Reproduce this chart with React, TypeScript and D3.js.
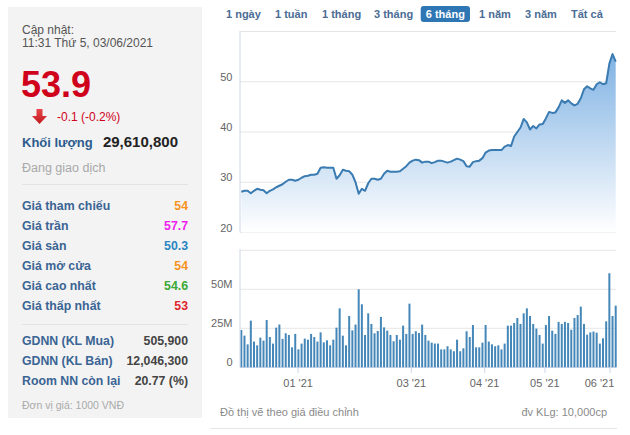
import React from 'react';
import * as d3 from 'd3';

// ---------- data ----------
const prices = [
  28.1, 28.3, 28.3, 27.8, 28.3, 28.7, 28.5, 28.4, 27.8, 28.3,
  28.6, 29.0, 29.3, 29.6, 30.1, 30.5, 30.5, 30.3, 30.5, 30.9,
  31.2, 31.3, 31.5, 31.5, 31.7, 32.9, 33.0, 32.9, 32.9, 32.9,
  30.7, 31.4, 32.5, 32.3, 32.2, 31.5, 30.0, 27.7, 28.7, 28.3,
  29.8, 30.7, 30.7, 30.5, 30.7, 31.7, 32.3, 32.1, 32.1, 32.1,
  32.2, 32.7, 33.2, 33.9, 34.3, 34.5, 34.4, 33.9, 34.1, 34.1,
  33.8, 34.0, 34.3, 34.3, 34.1, 33.9, 34.1, 34.4, 34.7, 34.5,
  34.2, 33.2, 33.1, 34.0, 34.2, 34.3, 34.8, 35.9, 36.3, 36.4,
  36.4, 36.4, 36.4, 37.1, 37.4, 37.2, 39.1, 40.0, 40.9, 42.6,
  41.9, 40.5, 41.2, 40.7, 41.5, 41.6, 42.7, 44.0, 43.8, 43.9,
  44.9, 46.3, 45.8, 46.3, 45.7, 45.3, 45.6, 46.7, 48.5, 49.1,
  48.7, 48.4, 49.5, 49.9, 49.5, 49.7, 53.6, 55.5, 54.0,
];

// volumes in millions of shares
const volumes = [
  23.9, 20.3, 14.7, 29.9, 16.5, 14.1, 19.0, 17.1, 30.3, 19.4,
  15.2, 25.4, 27.4, 18.2, 21.8, 20.7, 12.8, 21.4, 11.5, 15.2,
  18.4, 17.7, 21.4, 19.4, 16.5, 22.4, 16.0, 17.3, 14.1, 17.7,
  25.4, 37.8, 20.3, 14.1, 32.9, 23.7, 27.4, 50.0, 40.4, 20.7,
  34.6, 27.8, 21.8, 23.3, 32.3, 25.6, 23.5, 20.7, 16.7, 20.7,
  17.7, 26.7, 21.4, 40.8, 21.4, 23.1, 22.0, 27.4, 20.7, 17.1,
  15.8, 15.2, 15.2, 11.5, 11.5, 13.5, 11.5, 10.3, 17.7, 10.3,
  12.2, 23.1, 19.4, 27.1, 12.8, 12.8, 15.8, 27.1, 16.5, 14.7,
  13.5, 14.1, 11.5, 15.2, 26.7, 26.7, 28.4, 31.6, 27.8, 34.6,
  37.8, 32.9, 27.8, 24.8, 20.7, 15.2, 27.1, 32.9, 23.5, 21.4,
  29.1, 27.8, 29.1, 28.4, 24.1, 31.6, 33.5, 38.9, 27.8, 20.9,
  22.4, 22.9, 22.2, 15.2, 18.6, 29.5, 60.3, 32.9, 39.5,
];

const priceTicks = [20, 30, 40, 50, 60];
const volumeTicks = [0, 25, 50, 75];
const monthLabels = ["01 '21", "03 '21", "04 '21", "05 '21", "06 '21"];
const monthTickIndex = [17.9, 53.6, 76.7, 95.7, 116.2];

const tabs = ['1 ngày', '1 tuần', '1 tháng', '3 tháng', '6 tháng', '1 năm', '3 năm', 'Tất cả'];
const selectedTab = '6 tháng';

const statLabels = ['Giá tham chiếu', 'Giá trần', 'Giá sàn', 'Giá mở cửa', 'Giá cao nhất', 'Giá thấp nhất'];
const statValues = ['54', '57.7', '50.3', '54', '54.6', '53'];
const statColors = ['#f7931e', '#f01cf0', '#2a86c2', '#f7931e', '#3aa935', '#e0262b'];

const foreignLabels = ['GDNN (KL Mua)', 'GDNN (KL Bán)', 'Room NN còn lại'];
const foreignValues = ['505,900', '12,046,300', '20.77 (%)'];

// ---------- layout ----------
const W = 630;
const H = 435;
const FONT = '"Liberation Sans", Arial, Helvetica, sans-serif';
const tabStartX = [226, 275, 322, 374, 421, 479, 525, 571];

export default function App() {
  const n = prices.length;
  const x = d3.scaleLinear().domain([0, n - 1]).range([241.3, 615.7]);
  const yP = d3.scaleLinear().domain([20, 60]).range([232.5, 31.5]);
  const yV = d3.scaleLinear().domain([0, 75]).range([367.3, 250.3]);

  const line = d3.line<number>().x((_, i) => x(i)).y((d) => yP(d));
  const area = d3
    .area<number>()
    .x((_, i) => x(i))
    .y0(yP(20))
    .y1((d) => yP(d));

  const axisColor = '#ccd6eb';
  const gridColor = '#e6e6e6';
  const labelColor = '#666666';

  return (
    <svg
      width={W}
      height={H}
      style={{ position: 'absolute', left: 0, top: 0, background: '#fff' }}
      fontFamily={FONT}
    >
      <defs>
        <linearGradient id="areaGrad" gradientUnits="userSpaceOnUse" x1="0" y1="31" x2="0" y2="232">
          <stop offset="0" stopColor="#6fa8e0" />
          <stop offset="1" stopColor="#ffffff" />
        </linearGradient>
        <linearGradient id="arrowGrad" x1="0" y1="0" x2="0" y2="1">
          <stop offset="0" stopColor="#e8474b" />
          <stop offset="1" stopColor="#c0181d" />
        </linearGradient>
      </defs>

      {/* ---------- left panel ---------- */}
      <rect x={8} y={7} width={194} height={411} fill="#f3f3f3" />
      <text x={22} y={33.5} fontSize={12} fill="#555">Cập nhật:</text>
      <text x={22} y={46.5} fontSize={12} fill="#555">11:31 Thứ 5, 03/06/2021</text>
      <text x={21} y={96.7} fontSize={36} fontWeight="bold" fill="#d0021b">53.9</text>
      <path d="M36.5,109 L42.5,109 L42.5,116 L47,116 L39.5,124 L32,116 L36.5,116 Z" fill="url(#arrowGrad)" />
      <text x={57} y={121} fontSize={12} fill="#d0021b">-0.1 (-0.2%)</text>
      <text x={22} y={147} fontSize={13} fontWeight="bold" fill="#2d5b8e">Khối lượng</text>
      <text x={178} y={147} fontSize={15} fontWeight="bold" fill="#222" textAnchor="end">29,610,800</text>
      <text x={22} y={171.5} fontSize={12.5} fill="#a8a8a8">Đang giao dịch</text>
      <line x1={22} x2={188} y1={184.5} y2={184.5} stroke="#e2e2e2" />

      {statLabels.map((l, i) => (
        <g key={l}>
          <text x={22} y={209.5 + i * 20} fontSize={12.3} fontWeight="bold" fill="#3a6494">{l}</text>
          <text x={188} y={209.5 + i * 20} fontSize={12.3} fontWeight="bold" fill={statColors[i]} textAnchor="end">
            {statValues[i]}
          </text>
        </g>
      ))}
      <line x1={22} x2={188} y1={324.5} y2={324.5} stroke="#e2e2e2" />
      {foreignLabels.map((l, i) => (
        <g key={l}>
          <text x={22} y={344.5 + i * 20} fontSize={12.3} fontWeight="bold" fill="#3a6494">{l}</text>
          <text x={188} y={344.5 + i * 20} fontSize={12.3} fontWeight="bold" fill="#444" textAnchor="end">
            {foreignValues[i]}
          </text>
        </g>
      ))}
      <text x={22} y={409} fontSize={10.5} fill="#aaa">Đơn vị giá: 1000 VNĐ</text>

      {/* ---------- tabs ---------- */}
      {tabs.map((t, i) =>
        t === selectedTab ? (
          <g key={t}>
            <rect x={420.7} y={6} width={49.3} height={16} rx={3} fill="#2f76b5" />
            <text x={445.3} y={18} fontSize={11} fontWeight="bold" fill="#fff" textAnchor="middle">{t}</text>
          </g>
        ) : (
          <text key={t} x={tabStartX[i]} y={18} fontSize={11} fontWeight="bold" fill="#4a6c94">{t}</text>
        )
      )}

      {/* ---------- price chart ---------- */}
      {priceTicks.map((t) => (
        <line key={t} x1={240} x2={616} y1={yP(t)} y2={yP(t)} stroke={gridColor} />
      ))}
      {priceTicks.filter((t) => t < 60).map((t) => (
        <text key={t} x={232.5} y={yP(t) - 0.8} fontSize={11} fill={labelColor} textAnchor="end">{t}</text>
      ))}
      <path d={area(prices) || ''} fill="url(#areaGrad)" />
      <path d={line(prices) || ''} fill="none" stroke="#3a7bb1" strokeWidth={2} strokeLinejoin="round" />
      <line x1={240} x2={240} y1={31} y2={232.5} stroke={axisColor} />

      {/* ---------- volume chart ---------- */}
      {volumeTicks.map((t) => (
        <line key={t} x1={240} x2={616} y1={yV(t)} y2={yV(t)} stroke={t === 0 ? axisColor : gridColor} />
      ))}
      {volumeTicks.filter((t) => t < 75).map((t) => (
        <text key={t} x={232.5} y={yV(t) - 1} fontSize={11} fill={labelColor} textAnchor="end">
          {t === 0 ? '0' : `${t}M`}
        </text>
      ))}
      {volumes.map((v, i) => (
        <rect key={i} x={x(i) - 1} y={yV(v)} width={2} height={yV(0) - yV(v)} fill="#4587b8" />
      ))}
      <line x1={240} x2={240} y1={249} y2={367.3} stroke={axisColor} />
      {monthLabels.map((m, i) => {
        const tx = x(monthTickIndex[i]);
        const lx = Math.min(tx, 599.5);
        return (
          <g key={m}>
            <line x1={tx} x2={tx} y1={367.3} y2={373} stroke={axisColor} />
            <text x={lx} y={386.5} fontSize={11} fill={labelColor} textAnchor="middle">{m}</text>
          </g>
        );
      })}

      {/* ---------- footer ---------- */}
      <text x={220} y={416} fontSize={11} fill="#8a8a8a">Đồ thị vẽ theo giá điều chỉnh</text>
      <text x={607} y={416} fontSize={11} fill="#8a8a8a" textAnchor="end">đv KLg: 10,000cp</text>
      <line x1={210} x2={617} y1={428.5} y2={428.5} stroke="#e6e6e6" />
    </svg>
  );
}
